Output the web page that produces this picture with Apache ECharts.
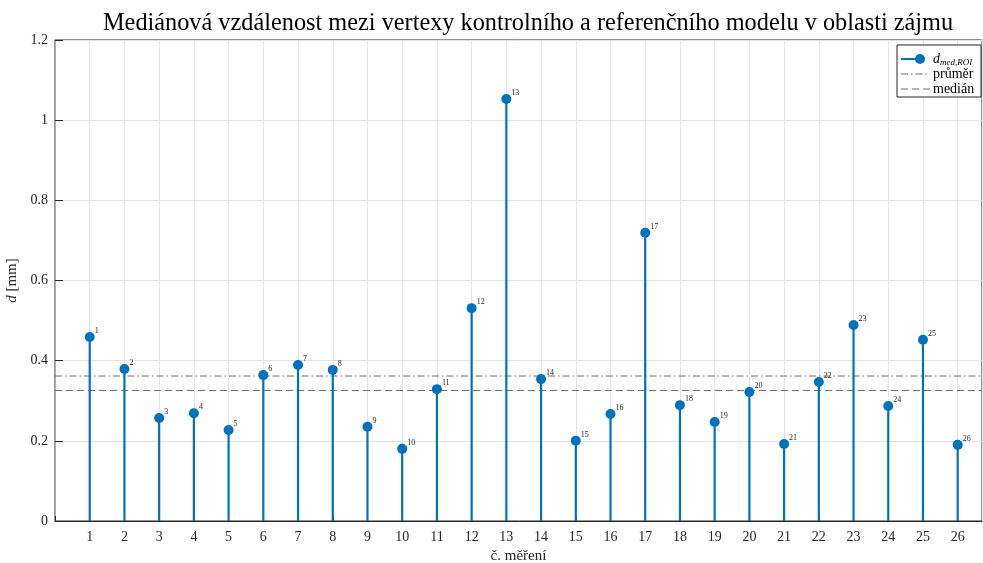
<!DOCTYPE html>
<html>
<head>
<meta charset="utf-8">
<style>
  html, body { margin: 0; padding: 0; background: #fff; }
  #chart { width: 983px; height: 563px; }
</style>
<script src="https://cdn.jsdelivr.net/npm/echarts@6/dist/echarts.min.js"></script>
</head>
<body>
<div id="chart"></div>
<script>
// Measurement numbers (č. měření) and median vertex distance in mm
const measurements = [1, 2, 3, 4, 5, 6, 7, 8, 9, 10, 11, 12, 13, 14, 15, 16, 17, 18, 19, 20, 21, 22, 23, 24, 25, 26];
const dMedRoi = [0.459, 0.379, 0.257, 0.269, 0.227, 0.364, 0.389, 0.377, 0.235, 0.180,
                 0.329, 0.531, 1.053, 0.354, 0.200, 0.267, 0.719, 0.289, 0.247, 0.322,
                 0.192, 0.347, 0.489, 0.287, 0.452, 0.190];
const yTicks = [0, 0.2, 0.4, 0.6, 0.8, 1, 1.2];
const legendNames = ['dmed', 'průměr', 'medián'];

const X_MAX = 26.7;
const BLUE = '#0072BD';
const REF_GREY = '#6e6e6e';
const FONT = 'Liberation Serif';
const DASH_DOT = [7, 3, 1.5, 3];
const DASH = [7, 4];

// summary statistics drawn as horizontal reference lines
const mean = dMedRoi.reduce((a, b) => a + b, 0) / dMedRoi.length;
const sorted = dMedRoi.slice().sort((a, b) => a - b);
const mid = sorted.length / 2;
const median = sorted.length % 2 ? sorted[Math.floor(mid)] : (sorted[mid - 1] + sorted[mid]) / 2;

const points = measurements.map((m, i) => [m, dMedRoi[i]]);

// legend box drawn as graphic elements (stem icon + two reference-line icons)
function legendGraphic() {
  const x0 = 897, y0 = 45, w = 84, h = 52;
  const rows = [59, 74, 89];
  const textX = 933;
  const Z = 100;
  return [
    { type: 'rect', z: Z, shape: { x: x0, y: y0, width: w, height: h },
      style: { fill: '#fff', stroke: '#262626', lineWidth: 1 } },
    { type: 'line', z: Z + 1, shape: { x1: 901, y1: rows[0], x2: 920, y2: rows[0] },
      style: { stroke: BLUE, lineWidth: 2 } },
    { type: 'circle', z: Z + 1, shape: { cx: 920, cy: rows[0], r: 5 }, style: { fill: BLUE } },
    { type: 'text', z: Z + 1, x: textX, y: rows[0], style: {
        text: '{i|d}{sub|med,ROI}', verticalAlign: 'middle',
        rich: {
          i: { fontFamily: FONT, fontStyle: 'italic', fontSize: 14, fill: '#000' },
          sub: { fontFamily: FONT, fontStyle: 'italic', fontSize: 9, fill: '#000', padding: [7, 0, 0, 0] }
        } } },
    { type: 'line', z: Z + 1, shape: { x1: 901, y1: rows[1], x2: 930, y2: rows[1] },
      style: { stroke: REF_GREY, lineWidth: 1, lineDash: DASH_DOT } },
    { type: 'text', z: Z + 1, x: textX, y: rows[1], style: {
        text: legendNames[1], verticalAlign: 'middle', fontFamily: FONT, fontSize: 14, fill: '#000' } },
    { type: 'line', z: Z + 1, shape: { x1: 901, y1: rows[2], x2: 930, y2: rows[2] },
      style: { stroke: REF_GREY, lineWidth: 1, lineDash: DASH } },
    { type: 'text', z: Z + 1, x: textX, y: rows[2], style: {
        text: legendNames[2], verticalAlign: 'middle', fontFamily: FONT, fontSize: 14, fill: '#000' } }
  ];
}

const chart = echarts.init(document.getElementById('chart'), null, { renderer: 'canvas' });

chart.setOption({
  animation: false,
  backgroundColor: '#fff',
  textStyle: { fontFamily: FONT, color: '#262626' },
  title: {
    text: 'Mediánová vzdálenost mezi vertexy kontrolního a referenčního modelu v oblasti zájmu',
    left: 98,
    top: 7,
    textStyle: { fontFamily: FONT, fontSize: 24.3, fontWeight: 'normal', color: '#000' }
  },
  grid: {
    left: 55, right: 1, top: 40, bottom: 42,
    outerBoundsMode: 'none',
    containLabel: false,
    show: true, borderColor: '#262626', borderWidth: 1, backgroundColor: 'transparent'
  },
  xAxis: {
    type: 'value',
    min: 0, max: X_MAX, interval: 1,
    name: 'č. měření',
    nameLocation: 'middle',
    nameGap: 28,
    nameTextStyle: { fontFamily: FONT, fontSize: 15, color: '#262626' },
    axisLine: { show: true, lineStyle: { color: '#262626', width: 1 } },
    axisTick: { show: true, inside: true, length: 5, lineStyle: { color: '#262626' } },
    axisLabel: {
      fontFamily: FONT, fontSize: 14, color: '#262626', margin: 9,
      showMaxLabel: false,
      formatter: v => (v >= 1 && v <= 26 && Number.isInteger(v)) ? String(v) : ''
    },
    splitLine: { show: true, lineStyle: { color: '#e3e3e3', width: 1 } }
  },
  yAxis: {
    type: 'value',
    min: yTicks[0], max: yTicks[yTicks.length - 1], interval: 0.2,
    name: '{i|d} [mm]',
    nameLocation: 'middle',
    nameGap: 34,
    nameRotate: 90,
    nameTextStyle: {
      fontFamily: FONT, fontSize: 15, color: '#262626',
      rich: { i: { fontFamily: FONT, fontStyle: 'italic', fontSize: 15, color: '#262626' } }
    },
    axisLine: { show: true, lineStyle: { color: '#9a9a9a', width: 1.5 } },
    axisTick: { show: true, inside: true, length: 8, lineStyle: { color: '#262626' } },
    axisLabel: {
      fontFamily: FONT, fontSize: 14, color: '#262626', margin: 7,
      formatter: v => String(+v.toFixed(1))
    },
    splitLine: { show: true, lineStyle: { color: '#e3e3e3', width: 1 } }
  },
  graphic: legendGraphic(),
  series: [
    {
      // stems from zero to each value
      name: 'stems',
      type: 'bar',
      data: points,
      barWidth: 2.2,
      itemStyle: { color: BLUE },
      silent: true,
      z: 3
    },
    {
      name: legendNames[1],
      type: 'line',
      data: [[0, mean], [X_MAX, mean]],
      symbol: 'none',
      lineStyle: { color: REF_GREY, width: 1, type: DASH_DOT },
      z: 2
    },
    {
      name: legendNames[2],
      type: 'line',
      data: [[0, median], [X_MAX, median]],
      symbol: 'none',
      lineStyle: { color: REF_GREY, width: 1, type: DASH },
      z: 2
    },
    {
      name: legendNames[0],
      type: 'line',
      data: points,
      symbol: 'circle',
      symbolSize: 10,
      lineStyle: { width: 0, opacity: 0 },
      itemStyle: { color: BLUE },
      label: {
        show: true,
        position: [10, -5],
        fontFamily: FONT, fontSize: 8, color: '#262626',
        formatter: p => String(p.data[0])
      },
      z: 5
    }
  ]
});
</script>
</body>
</html>
